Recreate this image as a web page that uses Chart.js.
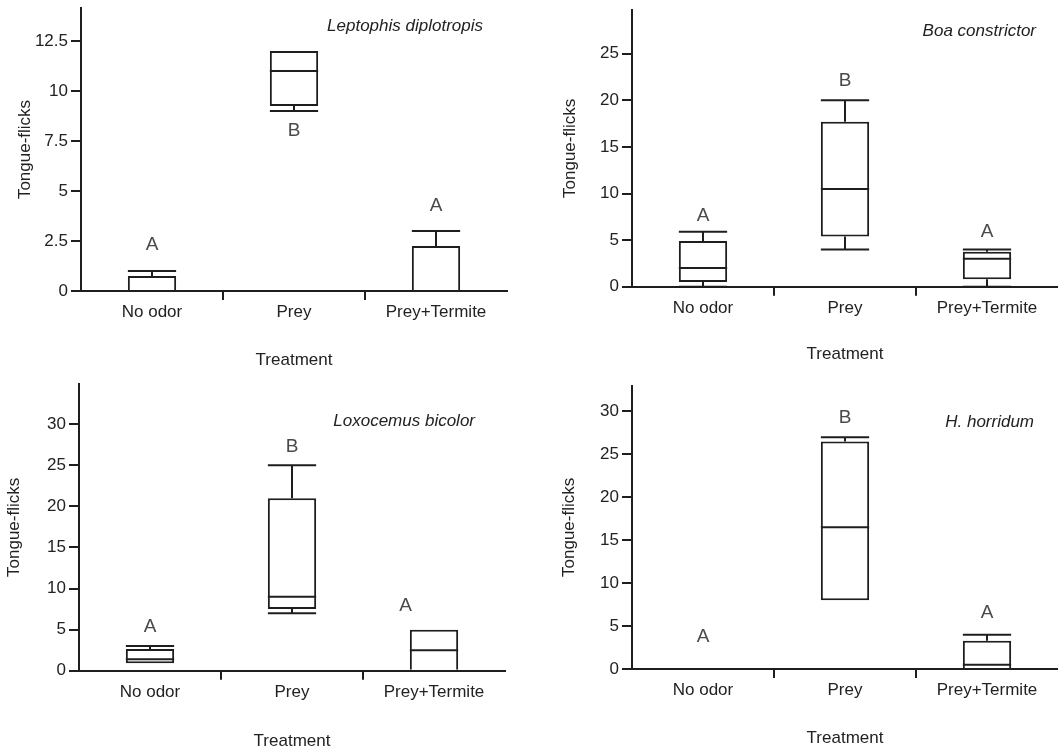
<!doctype html>
<html lang="en">
<head>
<meta charset="utf-8">
<title>Tongue-flicks by treatment</title>
<script src="https://cdn.jsdelivr.net/npm/chart.js@4.4.1/dist/chart.umd.min.js"></script>
<style>
  body { margin: 0; background: #fff; }
  #wrap { position: relative; width: 1058px; height: 752px; }
  canvas { position: absolute; }
</style>
</head>
<body>
<div id="wrap">
  <canvas id="lep" width="529" height="380" style="left:0;top:0"></canvas>
  <canvas id="boa" width="529" height="380" style="left:529px;top:0"></canvas>
  <canvas id="lox" width="529" height="372" style="left:0;top:380px"></canvas>
  <canvas id="hor" width="529" height="372" style="left:529px;top:380px"></canvas>
</div>
<script>
const categories = ['No odor', 'Prey', 'Prey+Termite'];

// Leptophis diplotropis
const lepMin = [0, 9, 0];
const lepQ1 = [0, 9.25, 0];
const lepMed = [0, 11, 0];
const lepQ3 = [0.75, 12, 2.25];
const lepMax = [1, 12, 3];
const lepLetters = ['A', 'B', 'A'];
const lepLetterY = [2.3, 8.0, 4.25];

// Boa constrictor
const boaMin = [0, 4, 0];
const boaQ1 = [0.5, 5.4, 0.8];
const boaMed = [2, 10.5, 3];
const boaQ3 = [4.9, 17.7, 3.75];
const boaMax = [5.9, 20, 4];
const boaLetters = ['A', 'B', 'A'];
const boaLetterY = [7.6, 22.1, 5.9];

// Loxocemus bicolor
const loxMin = [0.9, 7, 0];
const loxQ1 = [0.9, 7.5, 0];
const loxMed = [1.4, 9, 2.5];
const loxQ3 = [2.65, 21, 5];
const loxMax = [3, 25, 5];
const loxLetters = ['A', 'B', 'A'];
const loxLetterY = [5.35, 27.3, 7.9];
const loxLetterX = [0, 1, 1.8];

// H. horridum
const horMin = [0, 8, 0];
const horQ1 = [0, 8, 0];
const horMed = [0, 16.5, 0.5];
const horQ3 = [0, 26.5, 3.3];
const horMax = [0, 27, 4];
const horLetters = ['A', 'B', 'A'];
const horLetterY = [3.76, 29.3, 6.5];

const ink = '#1e1e1e';
const textInk = '#222222';
const family = '"Liberation Sans", Arial, sans-serif';
const font = { family: family, size: 17 };

function makePanel(id, p) {
  // whiskers, medians, letters and the species name
  const boxPlugin = {
    id: 'boxes',
    afterDatasetsDraw(chart) {
      const { ctx, scales: { x, y } } = chart;
      const meta = chart.getDatasetMeta(0);
      ctx.save();
      ctx.strokeStyle = ink;
      ctx.lineWidth = 2;
      const line = (x0, y0, x1, y1) => {
        ctx.beginPath(); ctx.moveTo(x0, y0); ctx.lineTo(x1, y1); ctx.stroke();
      };
      p.q1.forEach((q1, i) => {
        const cx = x.getPixelForValue(i);
        const half = meta.data[i].width / 2;
        if (p.max[i] > p.q3[i]) {
          line(cx, y.getPixelForValue(p.q3[i]), cx, y.getPixelForValue(p.max[i]));
          line(cx - half, y.getPixelForValue(p.max[i]), cx + half, y.getPixelForValue(p.max[i]));
        }
        if (p.min[i] < q1) {
          line(cx, y.getPixelForValue(q1), cx, y.getPixelForValue(p.min[i]));
          line(cx - half, y.getPixelForValue(p.min[i]), cx + half, y.getPixelForValue(p.min[i]));
        }
        if (p.q3[i] > q1) {
          line(cx - half, y.getPixelForValue(p.med[i]), cx + half, y.getPixelForValue(p.med[i]));
        }
      });
      ctx.fillStyle = '#4a4a4a';
      ctx.font = '19px ' + family;
      ctx.textAlign = 'center';
      ctx.textBaseline = 'middle';
      p.letters.forEach((t, i) => {
        ctx.fillText(t, x.getPixelForValue(p.letterX[i]), y.getPixelForValue(p.letterY[i]));
      });
      ctx.fillStyle = textInk;
      ctx.font = 'italic 17px ' + family;
      ctx.textAlign = 'right';
      ctx.fillText(p.species, p.speciesX, p.speciesY);
      ctx.restore();
    }
  };

  return new Chart(document.getElementById(id), {
    type: 'bar',
    data: {
      labels: categories,
      datasets: [{
        data: p.q1.map((v, i) => [v, p.q3[i]]),
        backgroundColor: '#ffffff',
        borderColor: ink,
        borderWidth: 2,
        // boxes that start at zero sit on the axis line
        borderSkipped: c => p.q1[c.dataIndex] === 0 ? 'start' : false,
        barPercentage: 0.34,
        categoryPercentage: 1
      }]
    },
    options: {
      responsive: false,
      animation: false,
      layout: { padding: { left: 0, top: p.padTop, right: p.padRight, bottom: 0 } },
      plugins: { legend: { display: false }, tooltip: { enabled: false } },
      scales: {
        x: {
          grid: {
            offset: true, drawOnChartArea: false, tickLength: 9, lineWidth: 2,
            color: c => (c.index === 1 || c.index === 2) ? ink : 'rgba(0,0,0,0)'
          },
          border: { display: true, color: ink, width: 2 },
          ticks: { color: textInk, font: font, padding: 2 },
          title: { display: true, text: 'Treatment', color: textInk, font: font,
                   padding: { top: 4, bottom: p.xTitlePad } },
          afterFit: s => { s.height = p.xHeight; s.paddingLeft = 0; s.paddingRight = 0; }
        },
        y: {
          min: 0,
          max: p.yMax,
          ticks: { stepSize: p.step, includeBounds: false, color: textInk, font: font, padding: 3 },
          grid: { drawOnChartArea: false, tickLength: 10, lineWidth: 2, color: ink },
          border: { display: true, color: ink, width: 2 },
          title: { display: true, text: 'Tongue-flicks', color: textInk, font: font,
                   padding: { top: p.yTitlePad, bottom: 0 } },
          afterFit: s => { s.width = p.yWidth; s.paddingTop = 0; s.paddingBottom = 0; }
        }
      }
    },
    plugins: [boxPlugin]
  });
}

makePanel('lep', {
  min: lepMin, q1: lepQ1, med: lepMed, q3: lepQ3, max: lepMax,
  letters: lepLetters, letterY: lepLetterY, letterX: [0, 1, 2],
  species: 'Leptophis diplotropis', speciesX: 483, speciesY: 26,
  yWidth: 81, padTop: 8, padRight: 22, xHeight: 89, yMax: 14.15, step: 2.5,
  yTitlePad: 14.8, xTitlePad: 9.8
});

makePanel('boa', {
  min: boaMin, q1: boaQ1, med: boaMed, q3: boaQ3, max: boaMax,
  letters: boaLetters, letterY: boaLetterY, letterX: [0, 1, 2],
  species: 'Boa constrictor', speciesX: 507, speciesY: 31,
  yWidth: 103, padTop: 10, padRight: 0, xHeight: 93.3, yMax: 29.7, step: 5,
  yTitlePad: 30.8, xTitlePad: 15.3
});

makePanel('lox', {
  min: loxMin, q1: loxQ1, med: loxMed, q3: loxQ3, max: loxMax,
  letters: loxLetters, letterY: loxLetterY, letterX: loxLetterX,
  species: 'Loxocemus bicolor', speciesX: 475, speciesY: 41,
  yWidth: 79, padTop: 4, padRight: 24, xHeight: 81.3, yMax: 34.9, step: 5,
  yTitlePad: 4, xTitlePad: 0.8
});

makePanel('hor', {
  min: horMin, q1: horQ1, med: horMed, q3: horQ3, max: horMax,
  letters: horLetters, letterY: horLetterY, letterX: [0, 1, 2],
  species: 'H. horridum', speciesX: 505, speciesY: 42,
  yWidth: 103, padTop: 5.7, padRight: 0, xHeight: 83, yMax: 33, step: 5,
  yTitlePad: 30.3, xTitlePad: 3.3
});
</script>
</body>
</html>
